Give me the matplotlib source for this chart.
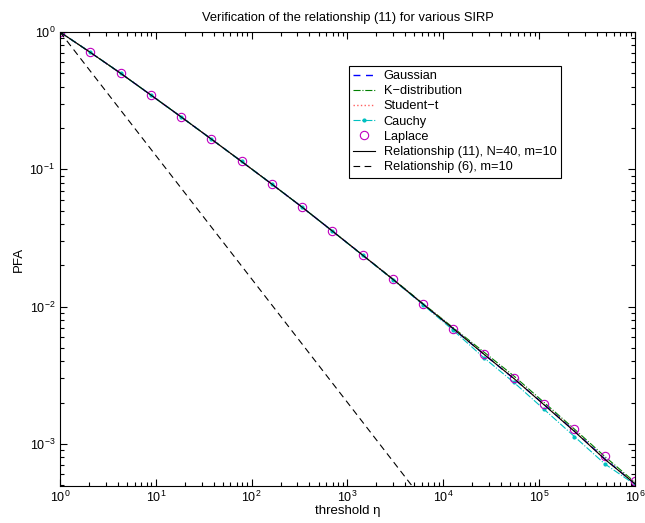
# PFA vs threshold, log-log, MATLAB-style look
import numpy as np
import matplotlib
matplotlib.use('Agg')
import matplotlib.pyplot as plt
from matplotlib.ticker import LogLocator, NullFormatter

plt.rcParams['font.family'] = ['Liberation Sans', 'DejaVu Sans']
plt.rcParams['mathtext.fontset'] = 'custom'
plt.rcParams['mathtext.rm'] = 'Liberation Sans'
plt.rcParams['mathtext.it'] = 'Liberation Sans:italic'

# --- data ---
eta = np.logspace(0, 6, 20)

pfa_rel11 = [1.0, 0.711, 0.501, 0.348, 0.241, 0.166, 0.114, 0.0780, 0.0530, 0.0355,
             0.0237, 0.0158, 0.0104, 0.00689, 0.00451, 0.00299, 0.00192, 0.00123,
             0.000773, 0.000511]
pfa_gauss = [1.0, 0.711, 0.501, 0.348, 0.241, 0.166, 0.114, 0.0780, 0.0530, 0.0355,
             0.0237, 0.0158, 0.0104, 0.00689, 0.00452, 0.00298, 0.00194, 0.00124,
             0.000780, 0.000510]
pfa_kdist = [1.0, 0.711, 0.501, 0.348, 0.241, 0.166, 0.114, 0.0780, 0.0530, 0.0355,
             0.0237, 0.0159, 0.0105, 0.00700, 0.00468, 0.00312, 0.00200, 0.00128,
             0.000810, 0.000525]
pfa_student = [1.0, 0.711, 0.501, 0.348, 0.241, 0.166, 0.114, 0.0780, 0.0530, 0.0355,
               0.0237, 0.0158, 0.0104, 0.00690, 0.00452, 0.00300, 0.00193, 0.00124,
               0.000775, 0.000512]
pfa_cauchy = [1.0, 0.711, 0.501, 0.348, 0.241, 0.166, 0.114, 0.0780, 0.0530, 0.0355,
              0.0236, 0.0157, 0.0103, 0.00670, 0.00425, 0.00280, 0.00178, 0.00113,
              0.000715, 0.000505]
pfa_laplace = [1.0, 0.711, 0.501, 0.348, 0.241, 0.166, 0.114, 0.0780, 0.0530, 0.0355,
               0.0237, 0.0158, 0.0104, 0.00689, 0.00451, 0.00302, 0.00196, 0.00129,
               0.000815, 0.000532]

eta_rel6 = [1, 10, 100, 1000, 10000]
pfa_rel6 = [1.0, 0.126, 0.0159, 0.00200, 0.000251]

# --- plot ---
fig = plt.figure(figsize=(6.45, 5.23), dpi=100)
ax = fig.add_axes([0.093, 0.0707, 0.8915, 0.8681])

ax.loglog(eta, pfa_gauss, '--', color='#0000ff', lw=1.0, dashes=(5, 4), label='Gaussian')
ax.loglog(eta, pfa_kdist, '-.', color='#008000', lw=0.8, label='K\u2212distribution')
ax.loglog(eta, pfa_student, ':', color='#ff6060', lw=1.0, label='Student\u2212t')
ax.loglog(eta, pfa_cauchy, '.-.', color='#00c0c0', lw=0.8, ms=4, label='Cauchy')
ax.loglog(eta, pfa_laplace, 'o', color='m', mfc='none', ms=6, mew=0.8, label='Laplace')
ax.loglog(eta, pfa_rel11, '-', color='k', lw=0.8, label='Relationship (11), N=40, m=10')
ax.loglog(eta_rel6, pfa_rel6, '--', color='k', lw=0.8, dashes=(6, 4), label='Relationship (6), m=10')

ax.set_xlim(1, 1e6)
ax.set_ylim(4.93e-4, 1)

ax.xaxis.set_minor_locator(LogLocator(base=10, subs=np.arange(2, 10), numticks=20))
ax.yaxis.set_minor_locator(LogLocator(base=10, subs=np.arange(2, 10), numticks=20))
ax.xaxis.set_minor_formatter(NullFormatter())
ax.yaxis.set_minor_formatter(NullFormatter())

ax.tick_params(which='both', direction='in', top=True, right=True, labelsize=9, width=0.8)
ax.tick_params(which='major', length=5)
ax.tick_params(which='minor', length=3)
ax.tick_params(axis='x', pad=3)
for s in ax.spines.values():
    s.set_linewidth(0.8)

ax.set_title('Verification of the relationship (11) for various SIRP', fontsize=9.3, pad=8)
ax.set_xlabel('threshold \u03b7', fontsize=9.5, labelpad=0)
ax.set_ylabel('PFA', fontsize=9.5, labelpad=3)

leg = ax.legend(loc='upper left', bbox_to_anchor=(0.502, 0.926), fontsize=9.2,
                fancybox=False, framealpha=1, edgecolor='k', handlelength=1.7,
                borderpad=0.35, labelspacing=0.25, handletextpad=0.7,
                borderaxespad=0.0)
leg.get_frame().set_linewidth(0.8)

fig.savefig('out.png', dpi=100)
